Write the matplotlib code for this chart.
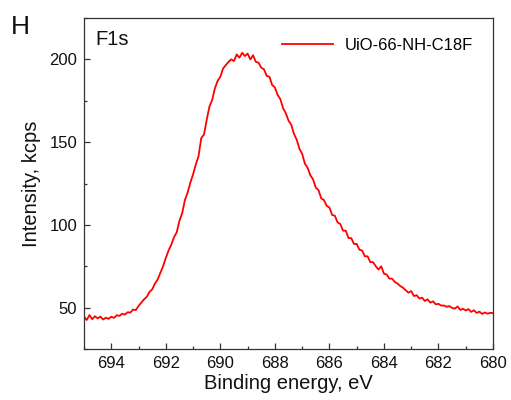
"""
XPS F1s spectrum of UiO-66-NH-C18F (panel H).
"""

import numpy as np
import matplotlib
matplotlib.use("Agg")
import matplotlib.pyplot as plt
from matplotlib.ticker import MultipleLocator

# Binding energy grid, 0.1 eV step from 695.0 down to 680.0
energy = np.round(np.arange(695.0, 679.95, -0.1), 1)

# Intensity (kcps), one value per grid point
intensity = [
    44.5, 42.5, 45.5, 43.0, 44.8, 43.5, 44.6, 42.8, 43.9, 43.2,   # 695.0-694.1
    44.5, 43.8, 45.4, 45.0, 46.3, 45.8, 47.2, 47.0, 48.8, 48.5,   # 694.0-693.1
    51.0, 53.0, 55.0, 56.5, 59.5, 61.0, 64.5, 67.0, 71.0, 75.0,   # 693.0-692.1
    80.0, 84.5, 88.0, 92.5, 95.5, 102.5, 107.0, 115.0, 119.5, 125.5,  # 692.0-691.1
    130.5, 136.5, 141.5, 152.5, 154.5, 163.5, 171.5, 175.5, 182.5, 187.0,  # 691.0-690.1
    189.5, 194.5, 196.5, 198.5, 200.0, 199.0, 203.0, 201.0, 204.0, 202.0,  # 690.0-689.1
    203.5, 200.0, 202.5, 198.5, 198.0, 195.0, 194.0, 190.0, 189.5, 184.5,  # 689.0-688.1
    183.0, 178.5, 176.0, 170.5, 167.5, 163.0, 160.5, 155.0, 151.5, 146.0,  # 688.0-687.1
    143.0, 137.0, 134.5, 130.0, 127.5, 122.5, 121.0, 116.0, 115.0, 111.5,  # 687.0-686.1
    110.5, 106.0, 105.5, 101.5, 100.5, 96.5, 96.5, 92.0, 92.0, 88.5,   # 686.0-685.1
    88.5, 85.0, 84.5, 81.0, 81.0, 77.5, 77.5, 75.0, 73.0, 75.0,   # 685.0-684.1
    70.5, 70.0, 67.5, 67.5, 65.5, 64.5, 63.0, 62.0, 60.5, 59.0,   # 684.0-683.1
    60.0, 57.0, 57.5, 55.5, 56.0, 54.0, 55.0, 53.0, 53.8, 52.0,   # 683.0-682.1
    52.3, 51.2, 51.3, 50.5, 50.9, 49.8, 49.4, 50.7, 48.6, 49.3,   # 682.0-681.1
    48.3, 49.1, 47.4, 48.4, 46.8, 47.6, 46.2, 47.1, 46.3, 46.9,   # 681.0-680.1
    46.6,                                                         # 680.0
]

plt.rcParams["font.family"] = ["Liberation Sans", "DejaVu Sans"]

fig = plt.figure(figsize=(5.11, 4.0), dpi=100)
ax = fig.add_axes([0.1644, 0.1275, 0.8004, 0.8275])

ax.plot(energy, intensity, color="#ff0000", linewidth=1.3, label="UiO-66-NH-C18F")

ax.set_xlim(695, 680)
ax.set_ylim(25, 225)
ax.xaxis.set_major_locator(MultipleLocator(2))
ax.xaxis.set_minor_locator(MultipleLocator(1))
ax.yaxis.set_major_locator(MultipleLocator(50))
ax.yaxis.set_minor_locator(MultipleLocator(25))
ax.set_yticks([50, 100, 150, 200])

spine_col = "#333333"
for sp in ax.spines.values():
    sp.set_color(spine_col)
    sp.set_linewidth(0.9)
ax.tick_params(which="both", direction="in", colors=spine_col, labelcolor="#111111",
               labelsize=12, width=0.9)
ax.tick_params(which="major", length=4, pad=5)
ax.tick_params(which="minor", length=2.5)

ax.set_xlabel("Binding energy, eV", fontsize=14.5, color="#111111", labelpad=2)
ax.set_ylabel("Intensity, kcps", fontsize=14.5, color="#111111", labelpad=6)

ax.text(0.027, 0.965, "F1s", transform=ax.transAxes, fontsize=14.5,
        ha="left", va="top", color="#111111")
fig.text(0.022, 0.962, "H", fontsize=19, ha="left", va="top", color="#111111")

ax.legend(loc="center left", bbox_to_anchor=(0.483, 0.918), frameon=False,
          fontsize=12, handlelength=3.1, handletextpad=0.7,
          borderpad=0, borderaxespad=0)

fig.savefig("out.png", dpi=100)
